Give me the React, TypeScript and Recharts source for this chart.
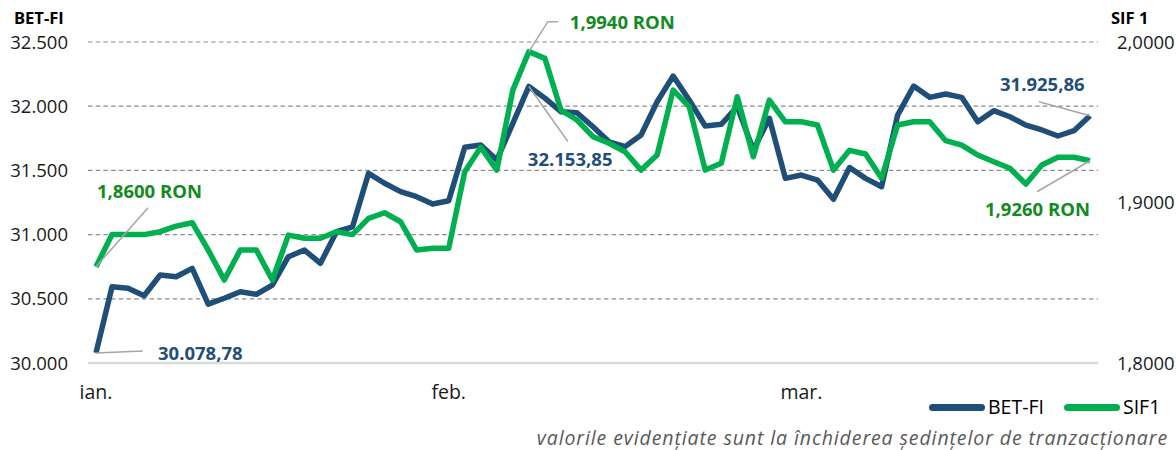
import React from 'react';
import { LineChart, Line, XAxis, YAxis, CartesianGrid } from 'recharts';

// BET-FI index closing values (trading sessions, Jan-Mar)
const betValues = [
  30078.78, 30594, 30582, 30524, 30685, 30672, 30737, 30459, 30504, 30555,
  30535, 30607, 30828, 30880, 30776, 31023, 31061, 31477, 31400, 31335,
  31295, 31238, 31264, 31680, 31698, 31581, 31867, 32153.85, 32063, 31957,
  31949, 31840, 31723, 31685, 31776, 32035, 32235, 32048, 31846, 31859,
  31996, 31659, 31906, 31438, 31464, 31425, 31275, 31522, 31438, 31373,
  31931, 32157, 32069, 32095, 32069, 31879, 31965, 31918, 31853, 31815,
  31768, 31809, 31925.86,
];

// SIF1 closing prices (RON)
const sifValues = [
  1.86, 1.88, 1.88, 1.88, 1.8818, 1.8853, 1.8874, 1.8704, 1.8517, 1.8704,
  1.8704, 1.8517, 1.8797, 1.8777, 1.8777, 1.8818, 1.88, 1.8901, 1.8936, 1.888,
  1.8704, 1.8715, 1.8715, 1.9192, 1.9344, 1.9202, 1.97, 1.994, 1.9898, 1.9576,
  1.9514, 1.941, 1.9369, 1.9316, 1.9202, 1.9296, 1.97, 1.9597, 1.9202, 1.9244,
  1.9659, 1.9285, 1.9638, 1.9503, 1.9503, 1.9483, 1.9202, 1.9325, 1.9302, 1.9151,
  1.9483, 1.9503, 1.9503, 1.9385, 1.9358, 1.9296, 1.9254, 1.9213, 1.9115, 1.9234,
  1.9282, 1.9282, 1.926,
];

// Category axis: trading-session index; month labels at month starts
const sessions = betValues.map((_, i) => i);
const monthLabels = ['ian.', 'feb.', 'mar.'];
const monthStartSessions = [0, 22, 44];

const leftTicks = [30000, 30500, 31000, 31500, 32000, 32500];
const rightTicks = [1.8, 1.9, 2.0];

// Highlighted values (session index -> label)
const betHighlights = [
  { index: 0, text: '30.078,78' },
  { index: 27, text: '32.153,85' },
  { index: 62, text: '31.925,86' },
];
const sifHighlights = [
  { index: 0, text: '1,8600 RON' },
  { index: 27, text: '1,9940 RON' },
  { index: 62, text: '1,9260 RON' },
];

// Label placement styles (offsets relative to the data point)
const betLabelStyle: Record<number, { leader: number[][]; tx: number; ty: number }> = {
  0: { leader: [[47, -2]], tx: 62, ty: 0 },
  27: { leader: [[39, 55]], tx: -1, ty: 73 },
  62: { leader: [[-51, -14]], tx: -90, ty: -31 },
};
const sifLabelStyle: Record<number, { leader: number[][]; tx: number; ty: number }> = {
  0: { leader: [[52, -59]], tx: 1, ty: -75 },
  27: { leader: [[19, -30], [29, -30]], tx: 41, ty: -29 },
  62: { leader: [[-53, 31]], tx: -105, ty: 49 },
};

const FONT = '"Open Sans", "DejaVu Sans", sans-serif';
const BLUE = '#1f4e79';
const GREEN = '#00b050';
const GREEN_TEXT = '#138a1f';
const W = 1176;
const H = 450;

const fmtThousands = (v: number) => String(v).replace(/\B(?=(\d{3})+(?!\d))/g, '.');
const fmtRon = (v: number) => v.toFixed(4).replace('.', ',');

const makeLabel = (
  highlights: { index: number; text: string }[],
  styles: Record<number, { leader: number[][]; tx: number; ty: number }>,
  color: string
) => (props: any) => {
  const { x, y, index } = props;
  const h = highlights.find((e) => e.index === index);
  if (!h || x == null || y == null) return <g key={`l-${index}`} />;
  const s = styles[index];
  const pts = [[x, y], ...s.leader.map(([dx, dy]) => [x + dx, y + dy])];
  return (
    <g key={`l-${index}`}>
      <polyline
        points={pts.map((p) => p.join(',')).join(' ')}
        fill="none"
        stroke="#a6a6a6"
        strokeWidth={1.5}
      />
      <text
        x={x + s.tx}
        y={y + s.ty}
        dy="0.36em"
        fill={color}
        fontFamily={FONT}
        fontWeight={700}
        fontSize={18.5}
        textAnchor="start"
      >
        {h.text}
      </text>
    </g>
  );
};

export default function App() {
  const data = sessions.map((s, i) => ({ s, bet: betValues[i], sif: sifValues[i] }));
  const tickStyle = { fill: '#1a1a1a', fontSize: 18.5, fontFamily: FONT };
  return (
    <div
      style={{
        position: 'absolute',
        left: 0,
        top: 0,
        width: W,
        height: H,
        background: '#fff',
        fontFamily: FONT,
        overflow: 'hidden',
      }}
    >
      <LineChart
        width={W}
        height={H}
        data={data}
        margin={{ top: 42, right: 0, bottom: 47, left: 0 }}
      >
        <CartesianGrid
          yAxisId="l"
          vertical={false}
          stroke="#8c8c8c"
          strokeDasharray="4.5 3.2"
          strokeWidth={1.2}
        />
        <XAxis
          dataKey="s"
          type="category"
          ticks={monthStartSessions}
          interval={0}
          tickFormatter={(v: number) => monthLabels[monthStartSessions.indexOf(v)] ?? ''}
          padding={{ left: 8, right: 8 }}
          height={40}
          axisLine={{ stroke: '#d9d9d9', strokeWidth: 2.5 }}
          tickLine={false}
          tickSize={0}
          tickMargin={22}
          tick={{ fill: '#1a1a1a', fontSize: 19.5, fontFamily: FONT }}
        />
        <YAxis
          yAxisId="l"
          orientation="left"
          width={88}
          domain={[30000, 32500]}
          ticks={leftTicks}
          tickFormatter={fmtThousands}
          axisLine={false}
          tickLine={false}
          tickSize={0}
          tickMargin={20}
          tick={tickStyle}
          allowDataOverflow
        />
        <YAxis
          yAxisId="r"
          orientation="right"
          width={78}
          domain={[1.8, 2.0]}
          ticks={rightTicks}
          tickFormatter={fmtRon}
          axisLine={false}
          tickLine={false}
          tickSize={0}
          tickMargin={19}
          tick={tickStyle}
          allowDataOverflow
        />
        <Line
          yAxisId="l"
          dataKey="bet"
          name="BET-FI"
          stroke={BLUE}
          strokeWidth={5.5}
          strokeLinejoin="round"
          dot={false}
          activeDot={false}
          isAnimationActive={false}
          label={makeLabel(betHighlights, betLabelStyle, BLUE)}
        />
        <Line
          yAxisId="r"
          dataKey="sif"
          name="SIF1"
          stroke={GREEN}
          strokeWidth={5.5}
          strokeLinejoin="round"
          dot={false}
          activeDot={false}
          isAnimationActive={false}
          label={makeLabel(sifHighlights, sifLabelStyle, GREEN_TEXT)}
        />
      </LineChart>

      {/* Axis titles */}
      <div
        style={{
          position: 'absolute',
          left: 14,
          top: 9,
          fontWeight: 700,
          fontSize: 16.5,
          color: '#000',
          lineHeight: '17px',
        }}
      >
        BET-FI
      </div>
      <div
        style={{
          position: 'absolute',
          left: 1111,
          top: 9,
          fontWeight: 700,
          fontSize: 16.5,
          color: '#000',
          lineHeight: '17px',
        }}
      >
        SIF 1
      </div>

      {/* Legend */}
      <div
        style={{
          position: 'absolute',
          left: 929,
          top: 394,
          display: 'flex',
          alignItems: 'center',
          fontSize: 19.5,
          color: '#000',
          lineHeight: '26px',
        }}
      >
        <span style={{ display: 'inline-block', width: 56, height: 7, borderRadius: 4, background: BLUE, marginRight: 3 }} />
        <span style={{ marginRight: 20 }}>BET-FI</span>
        <span style={{ display: 'inline-block', width: 56, height: 7, borderRadius: 4, background: GREEN, marginRight: 3 }} />
        <span>SIF1</span>
      </div>

      {/* Footnote */}
      <div
        style={{
          position: 'absolute',
          right: 8,
          top: 427,
          fontStyle: 'italic',
          fontSize: 19.5,
          letterSpacing: 0.9,
          color: '#595959',
          lineHeight: '22px',
          whiteSpace: 'nowrap',
        }}
      >
        valorile evidențiate sunt la închiderea ședințelor de tranzacționare
      </div>
    </div>
  );
}
